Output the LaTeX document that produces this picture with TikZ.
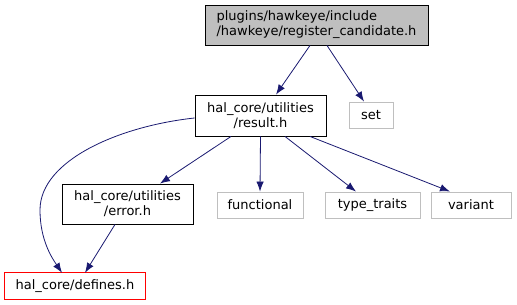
\documentclass[tikz,border=0pt]{standalone}
\usepackage{fontspec}
\setmainfont{DejaVu Sans}
\usetikzlibrary{arrows.meta}
\definecolor{edgeblue}{rgb}{0.098,0.098,0.439}
\definecolor{grayfill}{rgb}{0.75,0.75,0.75}
\definecolor{lightborder}{rgb}{0.75,0.75,0.75}
\definecolor{redborder}{rgb}{1,0,0}
\tikzset{
  txt/.style={font=\fontsize{13}{15}\selectfont},
  box/.style={txt, draw=black, line width=0.9pt, inner sep=0pt},
  extbox/.style={txt, draw=lightborder, line width=0.9pt, inner sep=0pt},
  redbox/.style={txt, text=black, inner sep=0pt},
  edge/.style={draw=edgeblue, line width=0.8pt, -{Latex[length=10pt,width=7.5pt]}},
}
\begin{document}
\begin{tikzpicture}[x=1pt,y=-1pt]
\useasboundingbox (0,0) rectangle (517,305);
\node[box, fill=grayfill, minimum width=223pt, minimum height=40pt, align=left] (top) at (316.5,25) {plugins/hawkeye/include\\/hawkeye/register\_candidate.h};
\node[box, minimum width=131pt, minimum height=41pt, align=center] (result) at (260.5,115.5) {hal\_core/utilities\\/result.h};
\node[extbox, minimum width=44pt, minimum height=26pt] (set) at (371,115) {set};
\node[box, minimum width=131pt, minimum height=40pt, align=center] (error) at (127.5,204) {hal\_core/utilities\\/error.h};
\node[extbox, minimum width=86pt, minimum height=26pt] (functional) at (260,205) {functional};
\node[extbox, minimum width=95pt, minimum height=26pt] (traits) at (372.5,205) {type\_traits};
\node[extbox, minimum width=80pt, minimum height=26pt] (variant) at (471,205) {variant};
\node[redbox, minimum width=140pt, minimum height=26pt] (defines) at (75,286) {hal\_core/defines.h};
\draw[redborder, line width=1pt] (defines.south west) rectangle (defines.north east);

\draw[edge] (top.south -| 310,0) -- (result.north -| 276,0);
\draw[edge] (top.south -| 327,0) -- (set.north -| 364,0);
\draw[edge] (result.west |- 0,118) .. controls (120,126) and (40,160) .. (40,210) .. controls (40,240) and (52,258) .. (defines.north -| 62,0);
\draw[edge] (result.south -| 231,0) -- (error.north -| 160,0);
\draw[edge] (result.south) -- (functional.north);
\draw[edge] (result.south -| 285,0) -- (traits.north -| 356,0);
\draw[edge] (result.south -| 310,0) -- (variant.north -| 450,0);
\draw[edge] (error.south -| 115,0) -- (defines.north -| 85,0);
\end{tikzpicture}
\end{document}
